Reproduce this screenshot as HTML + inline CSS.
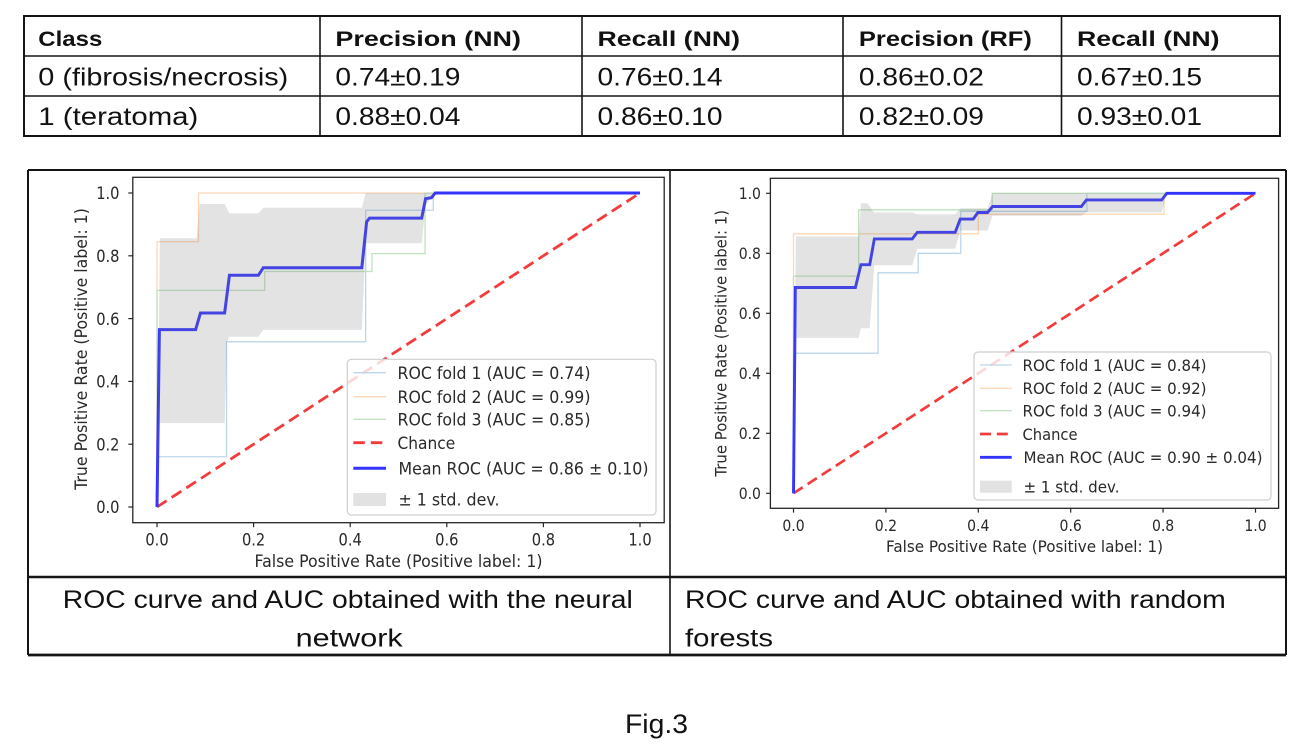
<!DOCTYPE html>
<html><head><meta charset="utf-8"><style>
html,body{margin:0;padding:0;background:#fff;}
svg{display:block;}
.t{font-family:"Liberation Sans",Arial,sans-serif;fill:#111;}
.m{font-family:"DejaVu Sans","Liberation Sans",sans-serif;fill:#2a2a2a;}
</style></head><body>
<svg width="1314" height="754" viewBox="0 0 1314 754" xmlns="http://www.w3.org/2000/svg">
<rect width="1314" height="754" fill="#fff"/>

<!-- ============ TOP TABLE ============ -->
<g stroke="#151515" fill="none">
<rect x="24" y="16" width="1256" height="120" stroke-width="2"/>
<line x1="24" y1="56" x2="1280" y2="56" stroke-width="1.6"/>
<line x1="24" y1="96" x2="1280" y2="96" stroke-width="1.6"/>
<line x1="320" y1="16" x2="320" y2="136" stroke-width="1.6"/>
<line x1="582" y1="16" x2="582" y2="136" stroke-width="1.6"/>
<line x1="843" y1="16" x2="843" y2="136" stroke-width="1.6"/>
<line x1="1061.5" y1="16" x2="1061.5" y2="136" stroke-width="1.6"/>
</g>
<g class="t" font-weight="bold" font-size="21.5">
<text x="38.3" y="46" textLength="64" lengthAdjust="spacingAndGlyphs">Class</text>
<text x="335.4" y="46" textLength="185.6" lengthAdjust="spacingAndGlyphs">Precision (NN)</text>
<text x="597.5" y="46" textLength="142.6" lengthAdjust="spacingAndGlyphs">Recall (NN)</text>
<text x="858.9" y="46" textLength="173" lengthAdjust="spacingAndGlyphs">Precision (RF)</text>
<text x="1077" y="46" textLength="142.6" lengthAdjust="spacingAndGlyphs">Recall (NN)</text>
</g>
<g class="t" font-size="25">
<text x="38.3" y="85.5" textLength="250" lengthAdjust="spacingAndGlyphs">0 (fibrosis/necrosis)</text>
<text x="335.4" y="85.5" textLength="125" lengthAdjust="spacingAndGlyphs">0.74±0.19</text>
<text x="597.5" y="85.5" textLength="125" lengthAdjust="spacingAndGlyphs">0.76±0.14</text>
<text x="858.9" y="85.5" textLength="125" lengthAdjust="spacingAndGlyphs">0.86±0.02</text>
<text x="1077" y="85.5" textLength="125" lengthAdjust="spacingAndGlyphs">0.67±0.15</text>
<text x="38.3" y="125" textLength="160" lengthAdjust="spacingAndGlyphs">1 (teratoma)</text>
<text x="335.4" y="125" textLength="125" lengthAdjust="spacingAndGlyphs">0.88±0.04</text>
<text x="597.5" y="125" textLength="125" lengthAdjust="spacingAndGlyphs">0.86±0.10</text>
<text x="858.9" y="125" textLength="125" lengthAdjust="spacingAndGlyphs">0.82±0.09</text>
<text x="1077" y="125" textLength="125" lengthAdjust="spacingAndGlyphs">0.93±0.01</text>
</g>

<!-- ============ FIGURE TABLE FRAME ============ -->
<g stroke="#151515" fill="none">
<line x1="28" y1="170" x2="1286" y2="170" stroke-width="2"/>
<line x1="28" y1="170" x2="28" y2="655" stroke-width="2"/>
<line x1="1286" y1="170" x2="1286" y2="655" stroke-width="2"/>
<line x1="670" y1="170" x2="670" y2="655" stroke-width="1.6"/>
<line x1="28" y1="577" x2="1286" y2="577" stroke-width="2.6"/>
<line x1="28" y1="655" x2="1286" y2="655" stroke-width="2.8"/>
</g>

<!-- ============ LEFT CHART ============ -->
<g transform="translate(157 507) scale(0.483 -0.314)" fill="none" stroke-width="1.3" stroke-linejoin="miter">
<polyline vector-effect="non-scaling-stroke" stroke="#bcd6e9" points="0,0 0,160 144,160 144,526 432,526 432,945 572,945 572,1000 1000,1000"/>
<polyline vector-effect="non-scaling-stroke" stroke="#ffd8b7" points="0,0 0,845 86,845 86,1000 1000,1000"/>
<polyline vector-effect="non-scaling-stroke" stroke="#c0e2c0" points="0,0 0,690 223,690 223,750 445,750 445,807 555,807 555,1000 1000,1000"/>
</g>
<line x1="157" y1="507" x2="640" y2="193" stroke="#f23c3c" stroke-width="2.8" stroke-dasharray="11.5 6"/>
<g transform="translate(157 507) scale(0.483 -0.314)">
<polyline vector-effect="non-scaling-stroke" fill="none" stroke="#3434ff" stroke-width="3" points="0,0 5,565 80,565 90,618 140,618 150,738 210,738 220,762 424,762 434,908 440,920 548,920 556,982 568,985 576,1000 1000,1000"/>
<polygon fill="#808080" fill-opacity="0.22" points="0,0 6,856 82,856 88,965 140,965 150,935 210,935 220,953 424,953 432,1000 1000,1000 576,1000 556,960 548,840 432,840 424,564 220,564 210,542 150,542 145,526 140,267 6,267"/>
</g>
<rect x="132.8" y="177.3" width="531.4" height="345.4" fill="none" stroke="#262626" stroke-width="1.3"/>
<g stroke="#262626" stroke-width="1.2">
<line x1="157" y1="522.7" x2="157" y2="527.2"/><line x1="253.6" y1="522.7" x2="253.6" y2="527.2"/>
<line x1="350.2" y1="522.7" x2="350.2" y2="527.2"/><line x1="446.8" y1="522.7" x2="446.8" y2="527.2"/>
<line x1="543.4" y1="522.7" x2="543.4" y2="527.2"/><line x1="640" y1="522.7" x2="640" y2="527.2"/>
<line x1="128.3" y1="193" x2="132.8" y2="193"/><line x1="128.3" y1="255.8" x2="132.8" y2="255.8"/>
<line x1="128.3" y1="318.6" x2="132.8" y2="318.6"/><line x1="128.3" y1="381.4" x2="132.8" y2="381.4"/>
<line x1="128.3" y1="444.2" x2="132.8" y2="444.2"/><line x1="128.3" y1="507" x2="132.8" y2="507"/>
</g>
<g class="m" font-size="17">
<text x="145.35" y="545.5" textLength="23.3" lengthAdjust="spacingAndGlyphs">0.0</text>
<text x="241.95" y="545.5" textLength="23.3" lengthAdjust="spacingAndGlyphs">0.2</text>
<text x="338.55" y="545.5" textLength="23.3" lengthAdjust="spacingAndGlyphs">0.4</text>
<text x="435.15" y="545.5" textLength="23.3" lengthAdjust="spacingAndGlyphs">0.6</text>
<text x="531.75" y="545.5" textLength="23.3" lengthAdjust="spacingAndGlyphs">0.8</text>
<text x="628.35" y="545.5" textLength="23.3" lengthAdjust="spacingAndGlyphs">1.0</text>
<text x="96.2" y="199.2" textLength="23.3" lengthAdjust="spacingAndGlyphs">1.0</text>
<text x="96.2" y="262" textLength="23.3" lengthAdjust="spacingAndGlyphs">0.8</text>
<text x="96.2" y="324.8" textLength="23.3" lengthAdjust="spacingAndGlyphs">0.6</text>
<text x="96.2" y="387.6" textLength="23.3" lengthAdjust="spacingAndGlyphs">0.4</text>
<text x="96.2" y="450.4" textLength="23.3" lengthAdjust="spacingAndGlyphs">0.2</text>
<text x="96.2" y="513.2" textLength="23.3" lengthAdjust="spacingAndGlyphs">0.0</text>
<text x="254.5" y="567" textLength="288" lengthAdjust="spacingAndGlyphs">False Positive Rate (Positive label: 1)</text>
<text transform="translate(87.2 349) rotate(-90)" x="-140.85" y="0" textLength="281.7" lengthAdjust="spacingAndGlyphs">True Positive Rate (Positive label: 1)</text>
</g>
<!-- left legend -->
<rect x="347.3" y="359.3" width="308.7" height="155.7" rx="4" fill="#fff" fill-opacity="0.8" stroke="#cfcfcf" stroke-width="1.2"/>
<g stroke-width="1.3">
<line x1="353.3" y1="372.7" x2="386" y2="372.7" stroke="#bcd6e9"/>
<line x1="353.3" y1="396.7" x2="386" y2="396.7" stroke="#ffd8b7"/>
<line x1="353.3" y1="419.3" x2="386" y2="419.3" stroke="#c0e2c0"/>
<line x1="353.3" y1="442.7" x2="386" y2="442.7" stroke="#f23c3c" stroke-width="2.8" stroke-dasharray="11.5 6"/>
<line x1="353.3" y1="468.3" x2="386" y2="468.3" stroke="#3434ff" stroke-width="3"/>
</g>
<rect x="353.3" y="493" width="32.7" height="13" fill="#e2e2e2"/>
<g class="m" font-size="17">
<text x="397.5" y="378.9" textLength="193" lengthAdjust="spacingAndGlyphs">ROC fold 1 (AUC = 0.74)</text>
<text x="397.5" y="402.9" textLength="193" lengthAdjust="spacingAndGlyphs">ROC fold 2 (AUC = 0.99)</text>
<text x="397.5" y="425.5" textLength="193" lengthAdjust="spacingAndGlyphs">ROC fold 3 (AUC = 0.85)</text>
<text x="397.5" y="448.9" textLength="57.7" lengthAdjust="spacingAndGlyphs">Chance</text>
<text x="398.5" y="474.5" textLength="250" lengthAdjust="spacingAndGlyphs">Mean ROC (AUC = 0.86 ± 0.10)</text>
<text x="398.5" y="505.5" textLength="101" lengthAdjust="spacingAndGlyphs">± 1 std. dev.</text>
</g>

<!-- ============ RIGHT CHART ============ -->
<g transform="translate(793.5 493.3) scale(0.462 -0.3)" fill="none" stroke-width="1.3">
<polyline vector-effect="non-scaling-stroke" stroke="#bcd6e9" points="0,0 0,467 183,467 183,735 270,735 270,800 362,800 362,940 635,940 635,1000 1000,1000"/>
<polyline vector-effect="non-scaling-stroke" stroke="#ffd8b7" points="0,0 0,865 400,865 400,930 802,930 802,1000 1000,1000"/>
<polyline vector-effect="non-scaling-stroke" stroke="#c0e2c0" points="0,0 0,724 141,724 141,945 430,945 430,1000 1000,1000"/>
</g>
<line x1="793.5" y1="493.3" x2="1255.5" y2="193.3" stroke="#f23c3c" stroke-width="2.7" stroke-dasharray="11 5.8"/>
<g transform="translate(793.5 493.3) scale(0.462 -0.3)">
<polyline vector-effect="non-scaling-stroke" fill="none" stroke="#3434ff" stroke-width="2.9" points="0,0 4,686 134,686 146,762 165,762 175,848 257,848 268,870 350,870 361,914 389,914 399,936 420,936 431,956 623,956 634,978 797,978 808,1000 1000,1000"/>
<polygon fill="#808080" fill-opacity="0.22" points="0,0 5,856 141,856 146,967 160,967 174,936 257,936 268,930 350,930 361,950 420,950 431,1000 1000,1000 808,1000 797,936 634,936 623,925 431,925 420,876 361,876 350,815 268,815 257,760 175,760 165,550 146,550 141,518 5,518"/>
</g>
<rect x="770.4" y="178.3" width="508.2" height="330" fill="none" stroke="#262626" stroke-width="1.3"/>
<g stroke="#262626" stroke-width="1.2">
<line x1="793.5" y1="508.3" x2="793.5" y2="512.6"/><line x1="885.9" y1="508.3" x2="885.9" y2="512.6"/>
<line x1="978.3" y1="508.3" x2="978.3" y2="512.6"/><line x1="1070.7" y1="508.3" x2="1070.7" y2="512.6"/>
<line x1="1163.1" y1="508.3" x2="1163.1" y2="512.6"/><line x1="1255.5" y1="508.3" x2="1255.5" y2="512.6"/>
<line x1="766.1" y1="193.3" x2="770.4" y2="193.3"/><line x1="766.1" y1="253.3" x2="770.4" y2="253.3"/>
<line x1="766.1" y1="313.3" x2="770.4" y2="313.3"/><line x1="766.1" y1="373.3" x2="770.4" y2="373.3"/>
<line x1="766.1" y1="433.3" x2="770.4" y2="433.3"/><line x1="766.1" y1="493.3" x2="770.4" y2="493.3"/>
</g>
<g class="m" font-size="16.3">
<text x="782.35" y="531" textLength="22.3" lengthAdjust="spacingAndGlyphs">0.0</text>
<text x="874.75" y="531" textLength="22.3" lengthAdjust="spacingAndGlyphs">0.2</text>
<text x="967.15" y="531" textLength="22.3" lengthAdjust="spacingAndGlyphs">0.4</text>
<text x="1059.55" y="531" textLength="22.3" lengthAdjust="spacingAndGlyphs">0.6</text>
<text x="1151.95" y="531" textLength="22.3" lengthAdjust="spacingAndGlyphs">0.8</text>
<text x="1244.35" y="531" textLength="22.3" lengthAdjust="spacingAndGlyphs">1.0</text>
<text x="738.7" y="199.2" textLength="22.3" lengthAdjust="spacingAndGlyphs">1.0</text>
<text x="738.7" y="259.2" textLength="22.3" lengthAdjust="spacingAndGlyphs">0.8</text>
<text x="738.7" y="319.2" textLength="22.3" lengthAdjust="spacingAndGlyphs">0.6</text>
<text x="738.7" y="379.2" textLength="22.3" lengthAdjust="spacingAndGlyphs">0.4</text>
<text x="738.7" y="439.2" textLength="22.3" lengthAdjust="spacingAndGlyphs">0.2</text>
<text x="738.7" y="499.2" textLength="22.3" lengthAdjust="spacingAndGlyphs">0.0</text>
<text x="886" y="552" textLength="277" lengthAdjust="spacingAndGlyphs">False Positive Rate (Positive label: 1)</text>
<text transform="translate(726.6 343.3) rotate(-90)" x="-133.35" y="0" textLength="266.7" lengthAdjust="spacingAndGlyphs">True Positive Rate (Positive label: 1)</text>
</g>
<!-- right legend -->
<rect x="974" y="352" width="297" height="148" rx="4" fill="#fff" fill-opacity="0.8" stroke="#cfcfcf" stroke-width="1.2"/>
<g stroke-width="1.3">
<line x1="980" y1="365" x2="1011.7" y2="365" stroke="#bcd6e9"/>
<line x1="980" y1="388.3" x2="1011.7" y2="388.3" stroke="#ffd8b7"/>
<line x1="980" y1="410.7" x2="1011.7" y2="410.7" stroke="#c0e2c0"/>
<line x1="980" y1="434" x2="1011.7" y2="434" stroke="#f23c3c" stroke-width="2.7" stroke-dasharray="11 5.8"/>
<line x1="980" y1="457.3" x2="1011.7" y2="457.3" stroke="#3434ff" stroke-width="2.9"/>
</g>
<rect x="980" y="480.7" width="31.7" height="12" fill="#e2e2e2"/>
<g class="m" font-size="16.3">
<text x="1022.5" y="370.9" textLength="184" lengthAdjust="spacingAndGlyphs">ROC fold 1 (AUC = 0.84)</text>
<text x="1022.5" y="394.2" textLength="184" lengthAdjust="spacingAndGlyphs">ROC fold 2 (AUC = 0.92)</text>
<text x="1022.5" y="416.6" textLength="184" lengthAdjust="spacingAndGlyphs">ROC fold 3 (AUC = 0.94)</text>
<text x="1022.5" y="439.9" textLength="55" lengthAdjust="spacingAndGlyphs">Chance</text>
<text x="1023.5" y="463.2" textLength="239" lengthAdjust="spacingAndGlyphs">Mean ROC (AUC = 0.90 ± 0.04)</text>
<text x="1023.5" y="492.6" textLength="96" lengthAdjust="spacingAndGlyphs">± 1 std. dev.</text>
</g>

<!-- ============ CAPTIONS ============ -->
<g class="t" font-size="24.7">
<text x="62.8" y="608" textLength="570" lengthAdjust="spacingAndGlyphs">ROC curve and AUC obtained with the neural</text>
<text x="295.7" y="646.5" textLength="107" lengthAdjust="spacingAndGlyphs">network</text>
<text x="685" y="608" textLength="540.7" lengthAdjust="spacingAndGlyphs">ROC curve and AUC obtained with random</text>
<text x="685" y="646.5" textLength="88" lengthAdjust="spacingAndGlyphs">forests</text>
</g>
<text class="t" x="625" y="733" font-size="26.5" textLength="63" lengthAdjust="spacingAndGlyphs">Fig.3</text>
</svg>
</body></html>
